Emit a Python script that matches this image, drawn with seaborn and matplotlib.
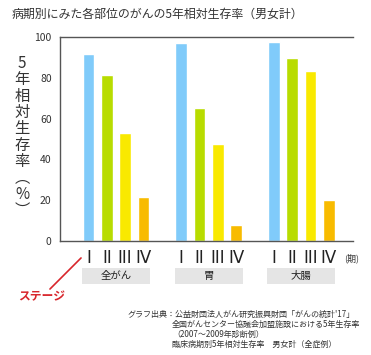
import numpy as np
import pandas as pd
import matplotlib
matplotlib.use('Agg')
import matplotlib.pyplot as plt
import matplotlib.transforms as mtransforms
from matplotlib.patches import Rectangle
import seaborn as sns

# chart data
sites = ['全がん', '胃', '大腸']
stages = ['I', 'II', 'III', 'IV']
all_cancer = [91.5, 81.6, 52.9, 21.5]
stomach = [96.9, 65.0, 47.4, 7.8]
colorectal = [97.4, 89.5, 83.5, 20.1]
stage_colors = ['#80cbfa', '#b8dc00', '#f9e900', '#f8bb00']

title = '病期別にみた各部位のがんの5年相対生存率（男女計）'
ylabel_chars = ['5', '年', '相', '対', '生', '存', '率', '︵', '%', '︶']
source_lines = [
    'グラフ出典：公益財団法人がん研究振興財団「がんの統計\'17」',
    '全国がんセンター協議会加盟施設における5年生存率',
    '（2007～2009年診断例）',
    '臨床病期別5年相対生存率　男女計（全症例）',
]

rows = []
for site, vals in zip(sites, [all_cancer, stomach, colorectal]):
    for st, v in zip(stages, vals):
        rows.append({'site': site, 'stage': st, 'rate': v})
df = pd.DataFrame(rows)

sns.set_style('white')
plt.rcParams['font.family'] = ['Noto Sans CJK JP', 'DejaVu Sans']

fig = plt.figure(figsize=(3.71, 3.55), dpi=100)
ax = fig.add_axes([60 / 371, 114 / 355, 293 / 371, 204 / 355])

sns.barplot(data=df, x='site', y='rate', hue='stage', order=sites,
            hue_order=stages, palette=stage_colors, width=0.79, gap=0.36,
            legend=False, ax=ax, saturation=1)

ax.set_ylim(0, 100)
ax.set_xlim(-0.604, 2.557)
ax.set_yticks([0, 20, 40, 60, 80, 100])
ax.tick_params(axis='y', length=0, pad=6, labelsize=7.5, labelcolor='#333333')
ax.set_xlabel('')
ax.set_ylabel('')

for side in ['left', 'top', 'bottom']:
    ax.spines[side].set_color('#555555')
    ax.spines[side].set_linewidth(1)
ax.spines['right'].set_visible(False)

# stage numerals under each bar
centers = sorted(p.get_x() + p.get_width() / 2 for p in ax.patches)
ax.set_xticks(centers)
ax.set_xticklabels(stages * len(sites), fontsize=12, color='#222222',
                   fontfamily='Liberation Sans Narrow')
ax.tick_params(axis='x', length=0, pad=6)

# group label boxes
trans = mtransforms.blended_transform_factory(ax.transData, ax.transAxes)
for i, site in enumerate(sites):
    ax.add_patch(Rectangle((i - 0.366, -0.211), 0.732, 0.079, transform=trans,
                           facecolor='#e5e5e5', edgecolor='none', clip_on=False))
    ax.text(i, -0.172, site, transform=trans, ha='center', va='center',
            fontsize=7.5, color='#222222')

fig.text(344 / 371, 1 - 258 / 355, '(期)', ha='left', va='center',
         fontsize=6.5, color='#333333')

# title
fig.text(12 / 371, 1 - 14 / 355, title, ha='left', va='center',
         fontsize=8.6, color='#333333')

# vertical y label
fig.text(22 / 371, 1 - 137 / 355, '\n'.join(ylabel_chars), ha='center',
         va='center', fontsize=11, color='#333333', linespacing=0.95)

# stage annotation
fig.text(41.5 / 371, 1 - 297 / 355, 'ステージ', ha='center', va='center',
         fontsize=8.5, fontweight='bold', color='#d8262c')
ax.annotate('', xy=(83, 355 - 256), xytext=(48, 355 - 291),
            xycoords='figure pixels', textcoords='figure pixels',
            arrowprops=dict(arrowstyle='-', color='#d8262c', lw=1.2))

# source
fig.text(128 / 371, 1 - 314 / 355, source_lines[0], ha='left', va='center',
         fontsize=5.8, color='#333333')
for k, line in enumerate(source_lines[1:]):
    fig.text(172 / 371, 1 - (324 + 10 * k) / 355, line, ha='left',
             va='center', fontsize=5.8, color='#333333')

fig.savefig('out.png', dpi=100, facecolor='white')
